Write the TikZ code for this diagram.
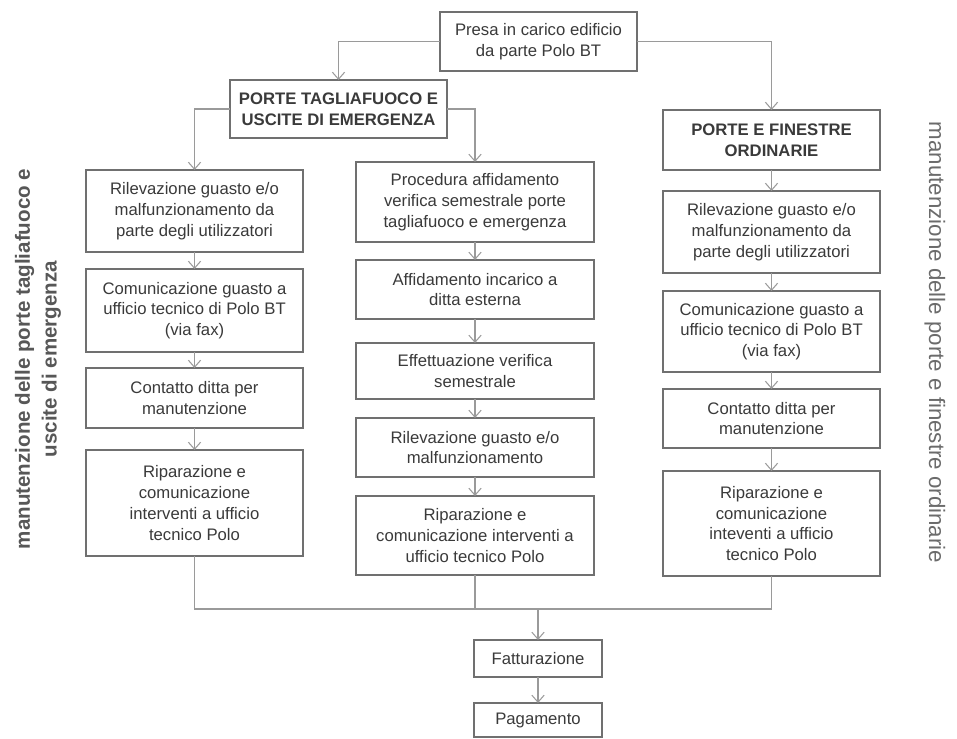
\documentclass[tikz,border=0pt]{standalone}
\usepackage{fontspec}
\setmainfont{Liberation Sans}
\usepackage{tikz}
\usetikzlibrary{arrows.meta, positioning}

\definecolor{txtgray}{HTML}{3A3A3A}
\definecolor{boxgray}{HTML}{707070}
\definecolor{linegray}{HTML}{9A9A9A}

\tikzset{
    box/.style={draw=boxgray, line width=0.8pt, fill=white, text=txtgray, align=center,
        inner sep=0pt, outer sep=0pt, font=\fontsize{9.5}{11.8}\selectfont},
    sidebox/.style={box, minimum width=4.34cm},
    midbox/.style={box, minimum width=4.76cm},
    head/.style={font=\fontsize{9.5}{11.8}\selectfont\bfseries},
    link/.style={draw=linegray, line width=0.6pt},
    arr/.style={link, -{Straight Barb[length=4pt, width=7pt]}}
}

\begin{document}
\begin{tikzpicture}[x=0.02cm, y=-0.02cm]
    \useasboundingbox (0,0) rectangle (957,739);
    % top and the two kinds of doors
    \node (top) at (538.5,41.5) [box, minimum width=3.94cm, minimum height=1.18cm] {Presa in carico edificio\\da parte Polo BT};
    \node (ptf) at (338.5,109) [sidebox, minimum height=1.16cm, head] {PORTE TAGLIAFUOCO E\\USCITE DI EMERGENZA};
    \node (pfo) at (771.5,140) [sidebox, minimum height=1.2cm, head] {PORTE E FINESTRE\\ORDINARIE};

    % left column
    \node (L1) at (194.5,211) [sidebox, minimum height=1.64cm] {Rilevazione guasto e/o\\malfunzionamento da\\parte degli utilizzatori};
    \node (L2) at (194.5,310.5) [sidebox, minimum height=1.66cm] {Comunicazione guasto a\\ufficio tecnico di Polo BT\\(via fax)};
    \node (L3) at (194.5,398) [sidebox, minimum height=1.2cm] {Contatto ditta per\\manutenzione};
    \node (L4) at (194.5,503) [sidebox, minimum height=2.12cm] {Riparazione e\\comunicazione\\interventi a ufficio\\tecnico Polo};

    % middle column
    \node (M1) at (475,202) [midbox, minimum height=1.6cm] {Procedura affidamento\\verifica semestrale porte\\tagliafuoco e emergenza};
    \node (M2) at (475,289.5) [midbox, minimum height=1.18cm] {Affidamento incarico a\\ditta esterna};
    \node (M3) at (475,371) [midbox, minimum height=1.12cm] {Effettuazione verifica\\semestrale};
    \node (M4) at (475,447.5) [midbox, minimum height=1.18cm] {Rilevazione guasto e/o\\malfunzionamento};
    \node (M5) at (475,535.5) [midbox, minimum height=1.58cm] {Riparazione e\\comunicazione interventi a\\ufficio tecnico Polo};

    % right column
    \node (R1) at (771.5,232) [sidebox, minimum height=1.64cm] {Rilevazione guasto e/o\\malfunzionamento da\\parte degli utilizzatori};
    \node (R2) at (771.5,331.5) [sidebox, minimum height=1.62cm] {Comunicazione guasto a\\ufficio tecnico di Polo BT\\(via fax)};
    \node (R3) at (771.5,418.5) [sidebox, minimum height=1.18cm] {Contatto ditta per\\manutenzione};
    \node (R4) at (771.5,523.5) [sidebox, minimum height=2.1cm] {Riparazione e\\comunicazione\\inteventi a ufficio\\tecnico Polo};

    % bottom
    \coordinate (merge) at (538,609);
    \node (fatt) at (538,658.5) [box, minimum width=2.56cm, minimum height=0.74cm] {Fatturazione};
    \node (pag) at (538,720) [box, minimum width=2.56cm, minimum height=0.68cm] {Pagamento};

    % side labels
    \node (lab1) at (38,359) [rotate=90, align=center, text=txtgray!85!white,
        font=\fontsize{11.7}{15.3}\selectfont\bfseries] {manutenzione delle porte tagliafuoco e\\uscite di emergenza};
    \node (lab2) at (935,342.5) [rotate=-90, text=txtgray!75!white,
        font=\fontsize{12.7}{15}\selectfont] {manutenzione delle porte e finestre ordinarie};

    % connectors
    \draw[arr] (top.west) -| (ptf.north);
    \draw[arr] (top.east) -| (pfo.north);
    \draw[arr] (ptf.west) -| (L1.north);
    \draw[arr] (ptf.east) -| (M1.north);
    \draw[arr] (pfo) -- (R1);
    \foreach \a/\b in {L1/L2, L2/L3, L3/L4, M1/M2, M2/M3, M3/M4, M4/M5, R1/R2, R2/R3, R3/R4}
        \draw[arr] (\a.south) -- (\b.north);
    \draw[link] (L4.south) -- (L4.south |- merge) -- (R4.south |- merge) -- (R4.south);
    \draw[link] (M5.south) -- (M5.south |- merge);
    \draw[arr] (merge) -- (fatt.north);
    \draw[arr] (fatt) -- (pag);
\end{tikzpicture}
\end{document}
